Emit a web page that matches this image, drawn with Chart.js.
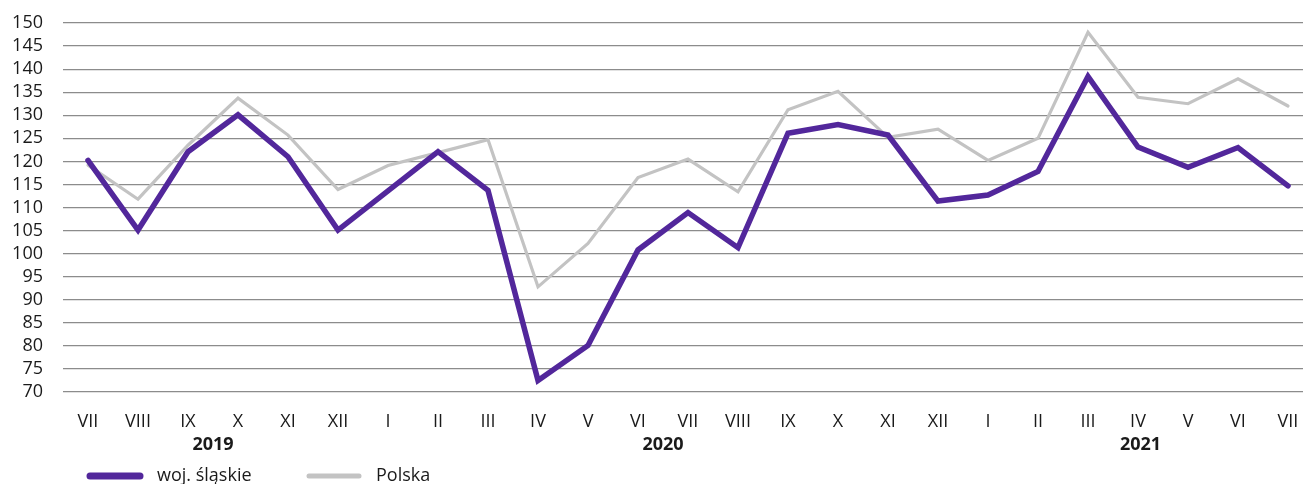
<!DOCTYPE html>
<html lang="pl">
<head>
<meta charset="utf-8">
<script src="https://cdn.jsdelivr.net/npm/chart.js@4/dist/chart.umd.min.js"></script>
<style>
html, body { margin: 0; padding: 0; background: #fff; }
#wrap { width: 1303px; height: 484px; }
</style>
</head>
<body>
<div id="wrap"><canvas id="wykres"></canvas></div>
<script>
// dane
const miesiace = ['VII', 'VIII', 'IX', 'X', 'XI', 'XII', 'I', 'II', 'III', 'IV', 'V', 'VI',
    'VII', 'VIII', 'IX', 'X', 'XI', 'XII', 'I', 'II', 'III', 'IV', 'V', 'VI', 'VII'];
const lata = ['2019', '2020', '2021'];
const pozycjeLat = [2.5, 11.5, 21.05];
const slaskie = [120.2, 105.1, 122.1, 130.1, 121.0, 105.1, 113.6, 122.1, 113.7, 72.5, 80.1, 100.8,
    108.9, 101.3, 126.1, 128.0, 125.7, 111.4, 112.7, 117.8, 138.4, 123.1, 118.7, 123.0, 114.7];
const polska = [119.2, 111.8, 123.5, 133.7, 125.7, 113.9, 119.1, 121.9, 124.7, 92.8, 102.2, 116.5,
    120.5, 113.4, 131.2, 135.2, 125.2, 127.0, 120.2, 125.0, 148.0, 133.9, 132.5, 137.9, 132.0];
const osY = [70, 75, 80, 85, 90, 95, 100, 105, 110, 115, 120, 125, 130, 135, 140, 145, 150];

const rodzina = "'Open Sans', sans-serif";
const kolorTekstu = '#1a1a1a';

function punkty(tab) {
    return tab.map((v, i) => ({ x: i, y: v }));
}

// legenda rysowana recznie pod wykresem
const legenda = {
    id: 'legenda',
    afterDraw(chart) {
        const ctx = chart.ctx;
        const y = 476;
        const starty = [90, 309];
        ctx.save();
        ctx.font = "18px " + rodzina;
        ctx.textBaseline = 'middle';
        chart.data.datasets.forEach((ds, i) => {
            let x = starty[i];
            ctx.beginPath();
            ctx.lineCap = 'round';
            ctx.lineWidth = ds.legendWidth;
            ctx.strokeStyle = ds.borderColor;
            ctx.moveTo(x, y);
            ctx.lineTo(x + 50, y);
            ctx.stroke();
            ctx.fillStyle = kolorTekstu;
            ctx.fillText(ds.label, x + 67, y);
        });
        ctx.restore();
    }
};

// miesiace na pozycjach calkowitych, lata jako druga linia miedzy nimi
let znaczniki = miesiace.map((m, i) => ({ value: i, label: m }))
    .concat(pozycjeLat.map((p, i) => ({ value: p, label: ['', lata[i]] })))
    .sort((a, b) => a.value - b.value);

let ctx = document.getElementById('wykres');
new Chart(ctx, {
    type: 'line',
    data: {
        datasets: [{
            label: 'woj. śląskie',
            data: punkty(slaskie),
            borderColor: '#52279b',
            borderWidth: 5.5,
            legendWidth: 7,
            borderCapStyle: 'round',
            pointRadius: 0,
            tension: 0
        }, {
            label: 'Polska',
            data: punkty(polska),
            borderColor: '#c3c3c3',
            borderWidth: 3.2,
            legendWidth: 5,
            borderCapStyle: 'round',
            pointRadius: 0,
            tension: 0
        }]
    },
    options: {
        responsive: true,
        maintainAspectRatio: false,
        animation: false,
        layout: { padding: { top: 23, right: 0, bottom: 32, left: 0 } },
        plugins: {
            legend: { display: false },
            tooltip: { enabled: false }
        },
        scales: {
            x: {
                type: 'linear',
                min: -0.5,
                max: 24.3,
                grid: { display: false, drawTicks: false },
                border: { display: false },
                afterBuildTicks: s => { s.ticks = znaczniki.map(z => ({ value: z.value })); },
                afterFit: s => {
                    s.height = 60;
                    s.paddingLeft = 0;
                    s.paddingRight = 0;
                },
                ticks: {
                    autoSkip: false,
                    maxRotation: 0,
                    padding: 18,
                    color: kolorTekstu,
                    font: c => ({
                        family: rodzina, size: 18, lineHeight: 1.3,
                        weight: c.tick && c.tick.value % 1 !== 0 ? 'bold' : 'normal'
                    }),
                    callback: (v, i) => znaczniki[i].label
                }
            },
            y: {
                min: 70,
                max: 150,
                afterFit: s => {
                    s.width = 63;
                    s.paddingTop = 0;
                    s.paddingBottom = 0;
                },
                afterBuildTicks: s => { s.ticks = osY.map(v => ({ value: v })); },
                grid: { color: '#8c8c8c', lineWidth: 1.2, drawTicks: false },
                border: { display: false },
                ticks: {
                    autoSkip: false,
                    padding: 20,
                    color: kolorTekstu,
                    font: { family: rodzina, size: 18 }
                }
            }
        }
    },
    plugins: [legenda]
});
</script>
</body>
</html>
